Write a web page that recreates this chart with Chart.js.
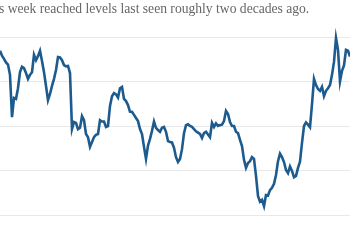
<!DOCTYPE html>
<html>
<head>
<meta charset="utf-8">
<script src="https://cdn.jsdelivr.net/npm/chart.js@4"></script>
<style>
  html, body { margin: 0; padding: 0; background: #fff; }
  #wrap { position: relative; width: 350px; height: 250px; overflow: hidden; }
  #note {
    position: absolute; left: -1px; top: 0px;
    font: 13.6px "Liberation Serif", Georgia, serif;
    color: #666; white-space: nowrap; line-height: 18px;
  }
  #chart { position: absolute; left: 0; top: 0; }
</style>
</head>
<body>
<div id="wrap">
  <canvas id="chart" width="350" height="250"></canvas>
  <div id="note">s week reached levels last seen roughly two decades ago.</div>
</div>
<script>
// Weekly readings
const rates = [
  6.69, 6.58, 6.51, 6.43, 6.38, 6.15, 5.20, 5.63, 5.61, 5.85,
  6.21, 6.33, 6.30, 6.19, 6.06, 6.15, 6.21, 6.60, 6.48, 6.57,
  6.69, 6.46, 6.21, 5.90, 5.58, 5.72, 5.90, 6.06, 6.26, 6.55,
  6.54, 6.48, 6.37, 6.34, 6.35, 6.19, 4.93, 5.09, 5.07, 4.93,
  4.96, 5.22, 5.13, 4.82, 4.75, 4.53, 4.64, 4.75, 4.80, 4.82,
  5.13, 5.10, 5.10, 4.98, 5.00, 5.45, 5.67, 5.74, 5.71, 5.64,
  5.85, 5.88, 5.61, 5.56, 5.47, 5.32, 5.32, 5.25, 5.18, 5.11,
  4.93, 4.82, 4.53, 4.26, 4.56, 4.71, 4.89, 5.10, 4.96, 4.91,
  4.87, 4.96, 4.98, 4.87, 4.66, 4.64, 4.63, 4.51, 4.30, 4.19,
  4.26, 4.48, 4.84, 5.02, 5.04, 5.00, 4.98, 4.93, 4.88, 4.85,
  4.82, 4.73, 4.84, 4.87, 4.81, 4.75, 5.07, 4.98, 5.06, 5.00,
  5.02, 5.03, 5.11, 5.34, 5.27, 5.09, 5.00, 5.00, 4.87, 4.84,
  4.69, 4.55, 4.24, 4.06, 4.17, 4.21, 4.30, 4.26, 3.88, 3.43,
  3.30, 3.34, 3.20, 3.45, 3.44, 3.56, 3.61, 3.70, 3.90, 4.21,
  4.38, 4.30, 4.19, 4.01, 3.94, 4.09, 3.99, 3.85, 3.88, 4.06,
  4.20, 4.62, 5.00, 5.08, 5.03, 4.97, 5.49, 6.06, 5.92, 5.83,
  5.79, 5.88, 5.67, 5.79, 5.85, 5.92, 6.15, 6.44, 6.98, 6.71,
  6.00, 6.24, 6.36, 6.71, 6.69, 6.56
];
const weeks = rates.map((_, i) => i + 1);
const gridTicks = [3, 4, 5, 6, 7];

new Chart(document.getElementById("chart"), {
  type: "line",
  data: {
    labels: weeks,
    datasets: [{
      data: rates,
      borderColor: "#1d5b8f",
      borderWidth: 2.6,
      pointRadius: 0,
      tension: 0,
      fill: false,
      clip: false
    }]
  },
  options: {
    responsive: false,
    animation: false,
    layout: { autoPadding: false, padding: { top: 37, bottom: 35, left: 0, right: 0 } },
    plugins: { legend: { display: false }, tooltip: { enabled: false } },
    scales: {
      x: { display: false, offset: false },
      y: {
        min: gridTicks[0],
        max: gridTicks[gridTicks.length - 1],
        afterBuildTicks: axis => { axis.ticks = gridTicks.map(v => ({ value: v })); },
        ticks: { display: false },
        grid: { color: "#e8e8e8", lineWidth: 1, drawTicks: false },
        border: { display: false }
      }
    }
  }
});
</script>
</body>
</html>
